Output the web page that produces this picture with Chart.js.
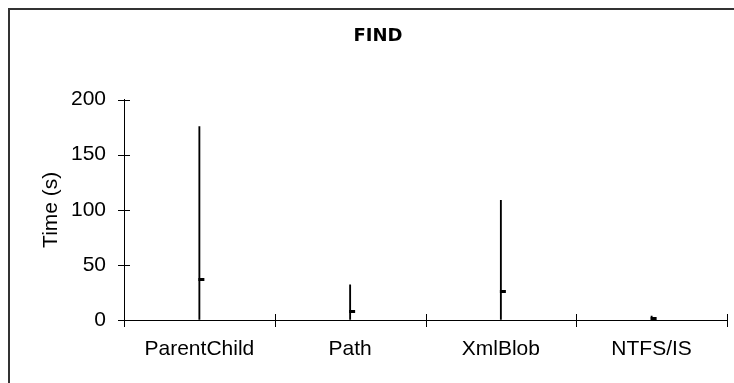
<!DOCTYPE html>
<html>
<head>
<meta charset="utf-8">
<script src="https://cdn.jsdelivr.net/npm/chart.js@4/dist/chart.umd.min.js"></script>
<style>
  html, body { margin: 0; padding: 0; background: #fff; }
  #wrap { position: relative; width: 734px; height: 383px; }
</style>
</head>
<body>
<div id="wrap"><canvas id="c" width="734" height="383"></canvas></div>
<script>
const categories = ['ParentChild', 'Path', 'XmlBlob', 'NTFS/IS'];
const minTimes = [0, 0, 0, 0];
const maxTimes = [175.5, 32, 108.5, 3.5];
const avgTimes = [37, 8, 26, 1.2];
const yTicks = [0, 50, 100, 150, 200];

const FONT = "'Liberation Sans', Arial, sans-serif";
const TITLE_FONT = "'DejaVu Sans', Verdana, sans-serif";

// marker: small black dash to the right of the high-low line
const marker = document.createElement('canvas');
marker.width = 12; marker.height = 3;
(function () {
  const m = marker.getContext('2d');
  m.fillStyle = '#000';
  m.fillRect(5, 0, 6, 3);
})();

const frameAndTicks = {
  id: 'frameAndTicks',
  beforeDraw(chart) {
    const ctx = chart.ctx;
    ctx.save();
    ctx.strokeStyle = '#333';
    ctx.lineWidth = 2;
    ctx.beginPath();
    ctx.moveTo(9, 383);
    ctx.lineTo(9, 9);
    ctx.lineTo(734, 9);
    ctx.stroke();
    ctx.restore();
  },
  afterDraw(chart) {
    const ctx = chart.ctx;
    const xs = chart.scales.x, ys = chart.scales.y;
    ctx.save();
    ctx.strokeStyle = '#000';
    ctx.lineWidth = 1;
    ctx.beginPath();
    yTicks.forEach(v => {
      const y = Math.round(ys.getPixelForValue(v)) + 0.5;
      ctx.moveTo(ys.right - 6, y);
      ctx.lineTo(ys.right + 6, y);
    });
    const n = categories.length;
    const step = (xs.right - xs.left) / n;
    const y0 = Math.round(xs.top);
    for (let i = 0; i <= n; i++) {
      const x = Math.round(xs.left + i * step) + 0.5;
      ctx.moveTo(x, y0 - 6);
      ctx.lineTo(x, y0 + 7);
    }
    ctx.stroke();
    ctx.restore();
  }
};

new Chart(document.getElementById('c'), {
  type: 'bar',
  data: {
    labels: categories,
    datasets: [
      {
        type: 'bar',
        label: 'Range',
        data: categories.map((c, i) => [minTimes[i], maxTimes[i]]),
        backgroundColor: '#000',
        borderWidth: 0,
        barThickness: 1.2,
        order: 2
      },
      {
        type: 'line',
        label: 'Average',
        data: avgTimes,
        showLine: false,
        pointStyle: marker,
        pointRadius: 4,
        order: 1
      }
    ]
  },
  plugins: [frameAndTicks],
  options: {
    responsive: false,
    animation: false,
    devicePixelRatio: 1,
    layout: { padding: { left: 29, right: 7, top: 0, bottom: 0 } },
    plugins: {
      legend: { display: false },
      tooltip: { enabled: false },
      title: {
        display: true,
        text: 'FIND',
        color: '#000',
        font: { family: TITLE_FONT, size: 18, weight: 'bold', lineHeight: 1.2 },
        padding: { top: 26, bottom: 52 }
      }
    },
    scales: {
      x: {
        offset: true,
        grid: { display: true, offset: true, drawOnChartArea: false, color: 'rgba(0,0,0,0)', tickLength: 6 },
        border: { display: true, color: '#000', width: 1 },
        ticks: { color: '#000', padding: 11, font: { family: FONT, size: 21 }, maxRotation: 0 },
        afterFit(s) { s.height = 63; }
      },
      y: {
        min: 0, max: 200,
        grid: { display: true, drawOnChartArea: false, color: 'rgba(0,0,0,0)', tickLength: 6 },
        border: { display: true, color: '#000', width: 1 },
        ticks: { color: '#000', stepSize: 50, padding: 12, font: { family: FONT, size: 21 } },
        title: {
          display: true,
          text: 'Time (s)',
          color: '#000',
          font: { family: FONT, size: 21, lineHeight: 1.2 },
          padding: { top: 10, bottom: 0 }
        },
        afterFit(s) { s.width = 95; }
      }
    }
  }
});
</script>
</body>
</html>
